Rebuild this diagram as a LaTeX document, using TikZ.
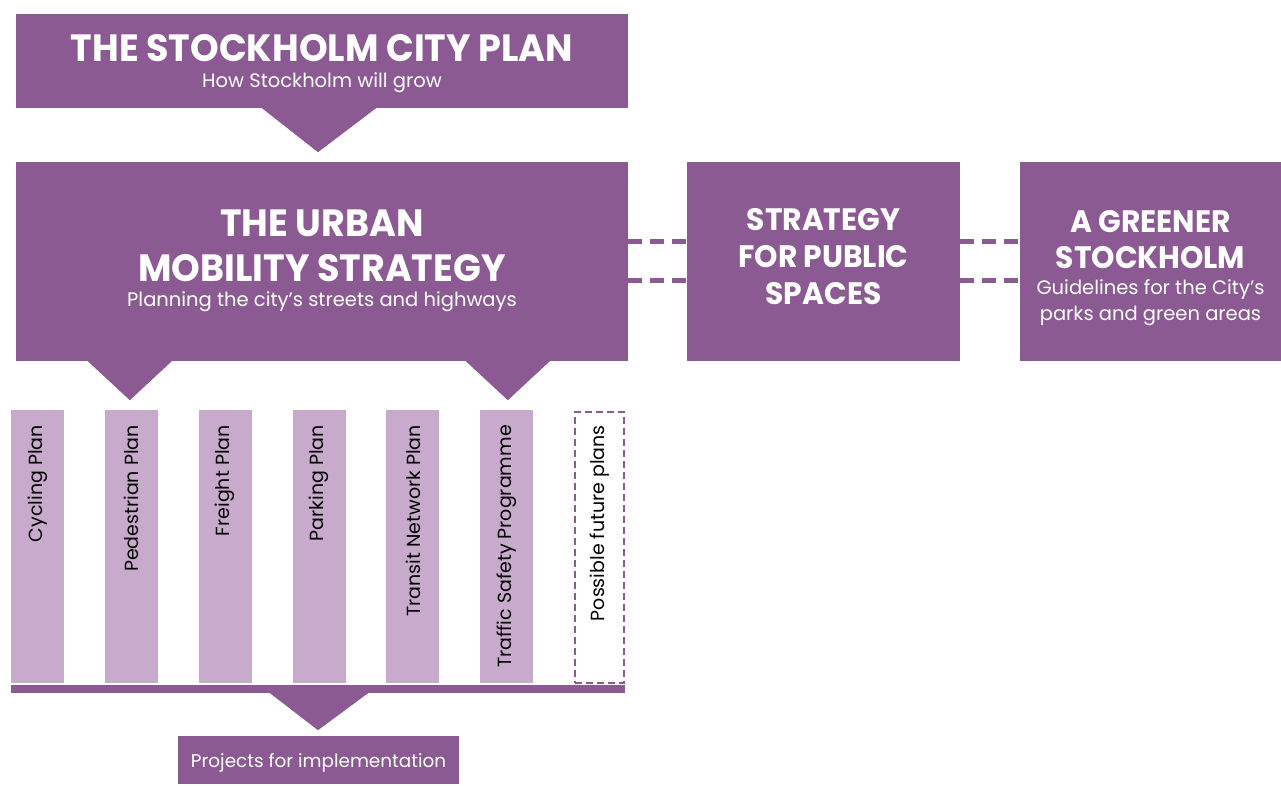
\documentclass[tikz,border=0pt]{standalone}
\usepackage{fontspec}
\setmainfont{Poppins}
\newfontfamily\headfont{Poppins}[FakeStretch=0.96]
\usetikzlibrary{calc}

\definecolor{plum}{HTML}{8B5A93}
\definecolor{lilac}{HTML}{C8AACC}

\newcommand{\headtxt}[1]{{\headfont\bfseries\fontsize{38}{45}\selectfont #1}}
\newcommand{\midtxt}[1]{{\headfont\bfseries\fontsize{31}{37}\selectfont #1}}
\newcommand{\subtxt}[1]{{\fontsize{19.5}{24}\selectfont #1}}

\tikzset{
  panel/.style={fill=plum, inner sep=0pt},
  paneltext/.style={text=white, inner sep=0pt, align=center},
  planbar/.style={fill=lilac, minimum width=53pt, minimum height=273pt,
    anchor=north west, inner sep=0pt},
  bartext/.style={rotate=90, anchor=east, inner sep=0pt,
    font=\fontsize{19}{22}\selectfont},
  linkline/.style={plum, line width=5pt, dash pattern=on 14pt off 8pt},
  pointer/.style={fill=plum},
}

\begin{document}
\begin{tikzpicture}[x=1pt,y=1pt]
  \useasboundingbox (0,0) rectangle (1281,-785);

  % top level plan
  \node[panel, minimum width=612pt, minimum height=94pt] (city) at (322,-61) {};
  \node[paneltext, font=\fontsize{38}{45}\selectfont] (citytxt)
    at ($(city)+(0,-3)$)
    {\headtxt{THE STOCKHOLM CITY PLAN}\\[-19pt] \subtxt{How Stockholm will grow}};
  \fill[pointer] ($(city.south)+(-60,0)$) -- ($(city.south)+(54,0)$)
    -- ($(city.south)+(-4,-44)$) -- cycle;

  % strategies
  \node[panel, minimum width=612pt, minimum height=199pt] (mob) at (322,-261.5) {};
  \node[paneltext, font=\fontsize{38}{45}\selectfont] (mobtxt)
    at ($(mob)+(0,1)$)
    {\headtxt{THE URBAN}\\ \headtxt{MOBILITY STRATEGY}\\[-20pt]
     \subtxt{Planning the city’s streets and highways}};
  \node[panel, minimum width=273pt, minimum height=199pt] (pub) at (823.5,-261.5) {};
  \node[paneltext, font=\fontsize{31}{37}\selectfont] (pubtxt)
    at ($(pub)+(0,4.5)$)
    {\midtxt{STRATEGY}\\ \midtxt{FOR PUBLIC}\\ \midtxt{SPACES}};
  \node[panel, minimum width=261pt, minimum height=199pt] (green) at (1150.5,-261.5) {};
  \node[paneltext, font=\fontsize{31}{36}\selectfont] (greentxt)
    at ($(green)+(0,-7)$)
    {\midtxt{A GREENER}\\ \midtxt{STOCKHOLM}\\[-10pt]
     \subtxt{Guidelines for the City’s}\\[-10pt] \subtxt{parks and green areas}};

  \foreach \dy in {-241,-280}{
    \draw[linkline] (mob.east |- 0,\dy) -- (pub.west |- 0,\dy);
    \draw[linkline] (pub.east |- 0,\dy) -- (green.west |- 0,\dy);
  }

  \fill[pointer] ($(mob.south west)+(72,0)$) -- ($(mob.south west)+(156,0)$)
    -- ($(mob.south west)+(114,-39)$) -- cycle;
  \fill[pointer] ($(mob.south west)+(450,0)$) -- ($(mob.south west)+(534,0)$)
    -- ($(mob.south west)+(492,-39)$) -- cycle;

  % plans
  \foreach[count=\i, evaluate=\i as \xl using 11+(\i-1)*93.8] \txt in
    {Cycling Plan,Pedestrian Plan,Freight Plan,Parking Plan,
     Transit Network Plan,Traffic Safety Programme}{
    \node[planbar] (bar\i) at (\xl,-410) {};
    \node[bartext] (lbl\i) at ($(bar\i.north)+(0,-15)$) {\txt};
  }
  \node[planbar, fill=none, draw=plum, line width=2pt,
    dash pattern=on 7pt off 4pt, minimum width=49pt, minimum height=271pt]
    (bar7) at (574,-411) {};
  \node[bartext] (lbl7) at ($(bar7.north)+(0,-14)$) {Possible future plans};

  % implementation
  \node[panel, minimum width=614pt, minimum height=8pt] (base) at (318,-689) {};
  \fill[pointer] ($(base.south)+(-48,0)$) -- ($(base.south)+(50,0)$)
    -- ($(base.south)+(0,-37)$) -- cycle;
  \node[panel, minimum width=281pt, minimum height=48pt] (proj) at (318.5,-760) {};
  \node[paneltext, font=\fontsize{18.4}{22}\selectfont] (projtxt)
    at ($(proj)+(0,-3)$) {Projects for implementation};
\end{tikzpicture}
\end{document}
